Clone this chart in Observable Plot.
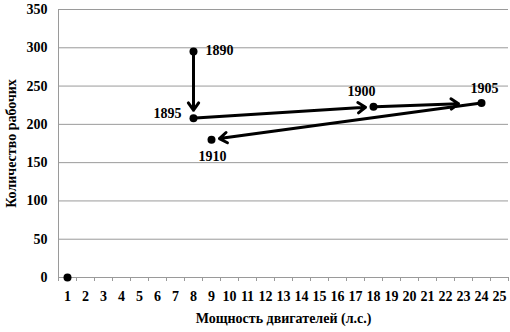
<!DOCTYPE html>
<html><head><meta charset="utf-8">
<script src="https://cdn.jsdelivr.net/npm/d3@7"></script>
<script src="https://cdn.jsdelivr.net/npm/@observablehq/plot@0.6"></script>
<style>
html,body{margin:0;padding:0;background:#fff;}
</style>
</head><body><div id="chart"></div>
<script>
const years = ["", "1890", "1895", "1900", "1905", "1910"];
const power = [1, 8, 8, 18, 24, 9];
const workers = [0, 295, 208, 223, 228, 180];
const xTicks = [1,2,3,4,5,6,7,8,9,10,11,12,13,14,15,16,17,18,19,20,21,22,23,24,25];
const yTicks = [0,50,100,150,200,250,300,350];

const pts = years.map((y, i) => ({year: y, x: power[i], y: workers[i]}));
const seq = pts.slice(1);
const arrows = seq.slice(0, -1).map((d, i) => ({x1: d.x, y1: d.y, x2: seq[i+1].x, y2: seq[i+1].y, long: seq[i+1].year === "1905"}));
const labelStyle = {
  "1890": {dx: 12, dy: -1, anchor: "start"},
  "1895": {dx: -12, dy: -5, anchor: "end"},
  "1900": {dx: -12, dy: -15, anchor: "middle"},
  "1905": {dx: 3, dy: -14, anchor: "middle"},
  "1910": {dx: 1, dy: 17, anchor: "middle"}
};
const labeled = pts.filter(d => d.year);
const boundaries = d3.range(0.5, 25.6, 1);
const SERIF = "Liberation Serif, DejaVu Serif, serif";

const arrowOpts = {x1: "x1", y1: "y1", x2: "x2", y2: "y2", stroke: "black", strokeWidth: 3, headLength: 4.5, headAngle: 70, insetStart: 2};

const chart = Plot.plot({
  width: 510, height: 332,
  marginLeft: 58, marginRight: 2, marginTop: 9, marginBottom: 55,
  style: {background: "white", fontFamily: SERIF},
  x: {domain: [0.5, 25.5]},
  y: {domain: [0, 350]},
  marks: [
    Plot.ruleY(yTicks, {stroke: "#9a9a9a", strokeWidth: 1}),
    Plot.ruleX([0.5], {stroke: "#9a9a9a"}),
    Plot.axisX({ticks: boundaries, tickSize: 4, tickFormat: () => "", stroke: "#9a9a9a"}),
    Plot.axisX({ticks: xTicks, tickSize: 0, tickPadding: 14, fontSize: 14, fontWeight: "bold", fill: "black", label: "Мощность двигателей (л.с.)", labelAnchor: "center", labelArrow: "none", labelOffset: 45}),
    Plot.axisY({ticks: yTicks, tickSize: 0, tickPadding: 11, fontSize: 14, fontWeight: "bold", fill: "black", label: "Количество рабочих", labelAnchor: "center", labelArrow: "none", labelOffset: 52}),
    Plot.arrow(arrows.filter(d => !d.long), {...arrowOpts, insetEnd: 8}),
    Plot.arrow(arrows.filter(d => d.long), {...arrowOpts, insetEnd: 23}),
    Plot.dot(pts, {x: "x", y: "y", r: 4, fill: "black"})
  ].concat(labeled.map(d => Plot.text([d], {x: "x", y: "y", text: "year", dx: labelStyle[d.year].dx, dy: labelStyle[d.year].dy, textAnchor: labelStyle[d.year].anchor, fontSize: 14, fontWeight: "bold", fill: "black"})))
});
document.getElementById("chart").appendChild(chart);
chart.setAttribute("font-family", SERIF);
chart.style.fontFamily = SERIF;
chart.querySelectorAll("g, text").forEach(t => {
  if (t.hasAttribute("font-family")) t.setAttribute("font-family", SERIF);
  if (t.tagName === "text") t.style.fontFamily = SERIF;
});
chart.querySelectorAll('g[aria-label="x-axis label"] text, g[aria-label="y-axis label"] text').forEach(t => {
  t.setAttribute("font-weight", "bold"); t.setAttribute("font-size", "14"); t.setAttribute("fill", "black");
});
</script>
</body></html>
